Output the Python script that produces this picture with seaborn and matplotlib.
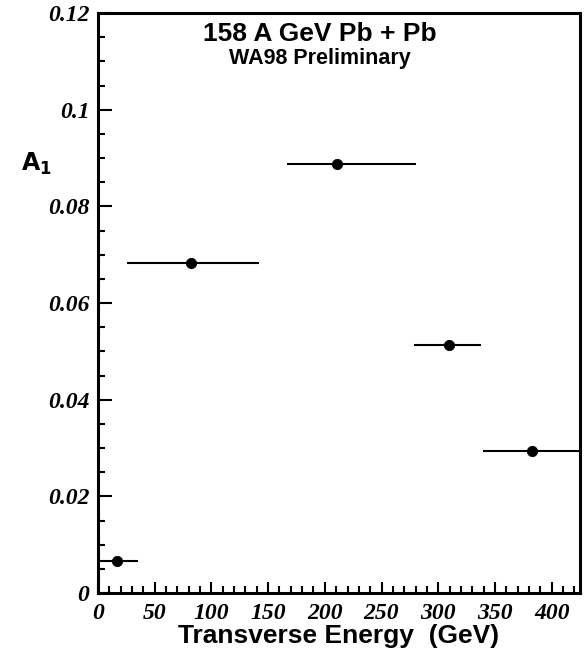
import matplotlib
matplotlib.use("Agg")
import matplotlib.pyplot as plt
from matplotlib.ticker import MultipleLocator
import seaborn as sns
import pandas as pd

# data
et_center = [17, 82, 211, 309, 383]
et_low = [0, 26, 167, 279, 339]
et_high = [35, 142, 280, 338, 430]
a1 = [0.0067, 0.0683, 0.0887, 0.0513, 0.0294]

df = pd.DataFrame({"Et": et_center, "A1": a1})

sns.set_style("ticks")
plt.rcParams['font.family'] = ['Liberation Sans', 'DejaVu Sans']
plt.rcParams['text.color'] = 'black'
plt.rcParams['axes.labelcolor'] = 'black'
plt.rcParams['xtick.color'] = 'black'
plt.rcParams['ytick.color'] = 'black'

fig = plt.figure(figsize=(5.86, 6.56), dpi=100)
ax = fig.add_axes([0.167, 0.096, 0.823, 0.884])

xerr = [[c - lo for c, lo in zip(et_center, et_low)],
        [hi - c for c, hi in zip(et_center, et_high)]]
ax.errorbar(et_center, a1, xerr=xerr, fmt='none', ecolor='black',
            elinewidth=1.5, capsize=0, zorder=2)
sns.scatterplot(data=df, x="Et", y="A1", ax=ax, color='black', s=55,
                edgecolor='black', zorder=3, legend=False)

ax.set_xlim(0, 425)
ax.set_ylim(0, 0.12)
ax.xaxis.set_major_locator(MultipleLocator(50))
ax.xaxis.set_minor_locator(MultipleLocator(10))
ax.yaxis.set_major_locator(MultipleLocator(0.02))
ax.yaxis.set_minor_locator(MultipleLocator(0.005))

ax.tick_params(which='both', direction='in', top=False, right=False, width=1.5)
ax.tick_params(axis='y', which='major', length=10, pad=6)
ax.tick_params(axis='y', which='minor', length=5)
ax.tick_params(axis='x', which='major', length=8, pad=7)
ax.tick_params(axis='x', which='minor', length=5)
for s in ax.spines.values():
    s.set_visible(True)
    s.set_linewidth(2.2)
    s.set_color('black')

ax.set_xticks(range(0, 401, 50))
ax.set_xticklabels([str(v) for v in range(0, 401, 50)])
ylabels = ['0', '0.02', '0.04', '0.06', '0.08', '0.1', '0.12']
ax.set_yticks([0, 0.02, 0.04, 0.06, 0.08, 0.1, 0.12])
ax.set_yticklabels(ylabels)
for lab in ax.get_xticklabels() + ax.get_yticklabels():
    lab.set_family('Liberation Serif')
    lab.set_style('italic')
    lab.set_fontweight('bold')
    lab.set_fontsize(17)

ax.set_xlabel("Transverse Energy  (GeV)", fontsize=19, fontweight='bold', labelpad=0)
ax.set_ylabel("")
fig.text(0.035, 0.75, r"$\mathbf{A_1}$", fontsize=17, ha='left', va='center')

ax.text(0.46, 0.985, "158 A GeV Pb + Pb", transform=ax.transAxes, ha='center',
        va='top', fontsize=19, fontweight='bold')
ax.text(0.46, 0.94, "WA98 Preliminary", transform=ax.transAxes, ha='center',
        va='top', fontsize=15.5, fontweight='bold')

fig.savefig("out.png", dpi=100)
